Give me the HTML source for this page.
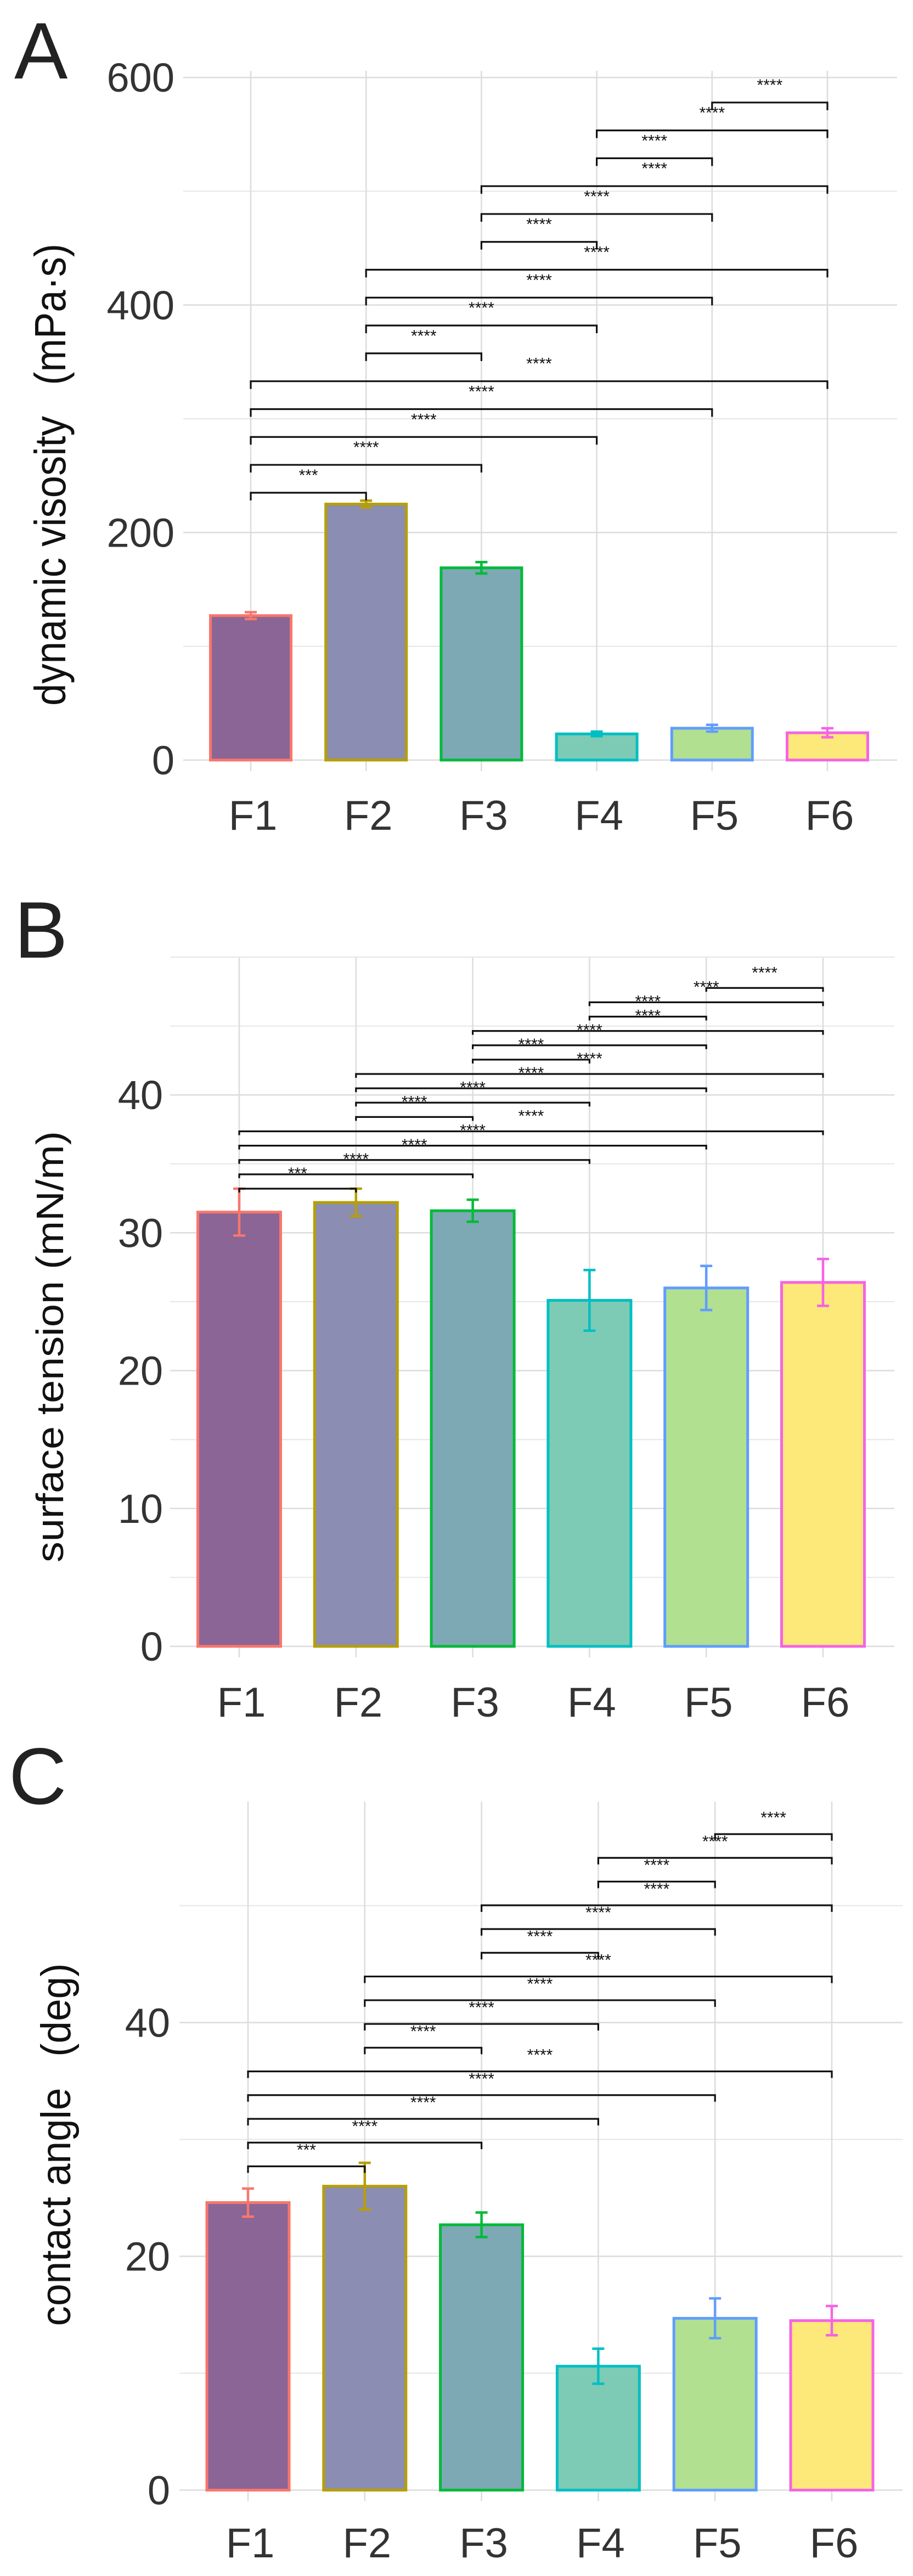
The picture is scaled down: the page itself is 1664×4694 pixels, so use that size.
<!DOCTYPE html>
<html><head><meta charset="utf-8"><style>
html,body{margin:0;padding:0;background:#fff;}
svg{display:block;font-family:"Liberation Sans",sans-serif;}
</style></head><body>
<svg id="fig" width="1664" height="4694" viewBox="0 0 1664 4694" xmlns="http://www.w3.org/2000/svg"></svg>
<script>
const categories = ["F1","F2","F3","F4","F5","F6"];
const fillColors = ["#8b6595","#8b8db2","#7da9b5","#7dcbb4","#b0e090","#fde97a"];
const strokeColors = ["#f8766d","#b79f00","#00ba38","#00bfc4","#619cff","#f564e3"];
const bracketPairs = [[0,1],[0,2],[0,3],[0,4],[0,5],[1,2],[1,3],[1,4],[1,5],[2,3],[2,4],[2,5],[3,4],[3,5],[4,5]];
const sigLabels = ["***","****","****","****","****","****","****","****","****","****","****","****","****","****","****"];

const viscValues = [127, 225, 169, 23, 28, 24];
const viscErrors = [3, 3, 5, 2, 3, 4];
const viscTicks = [0, 200, 400, 600];
const viscMinor = [100, 300, 500];
const viscBracketBase = 235, viscBracketStep = 24.5;

const tensionValues = [31.5, 32.2, 31.6, 25.1, 26.0, 26.4];
const tensionErrors = [1.7, 1.0, 0.8, 2.2, 1.6, 1.7];
const tensionTicks = [0, 10, 20, 30, 40];
const tensionMinor = [5, 15, 25, 35, 45, 50];
const tensionBracketBase = 33.2, tensionBracketStep = 1.04;

const angleValues = [24.6, 26.0, 22.7, 10.6, 14.7, 14.5];
const angleErrors = [1.2, 2.0, 1.05, 1.5, 1.7, 1.25];
const angleTicks = [0, 20, 40];
const angleMinor = [10, 30, 50];
const angleBracketBase = 27.7, angleBracketStep = 2.03;

const NS = "http://www.w3.org/2000/svg";
const svg = document.getElementById("fig");
function mk(tag, attrs, parent){
  const e = document.createElementNS(NS, tag);
  for (const k in attrs) e.setAttribute(k, attrs[k]);
  (parent || svg).appendChild(e);
  return e;
}

function drawPanel(cfg){
  const g = mk("g", {});
  
  
  const xS = i => cfg.x0 + i * cfg.dx;
  const yS = v => cfg.yZero - v * cfg.ppu;
  cfg.minor.forEach(v => {
    const l = mk("line", {x1:cfg.gridL, x2:cfg.gridR, y1:yS(v), y2:yS(v), stroke:"#e6e6e6", "stroke-width":2}, g);
    
    
  });
  cfg.ticks.forEach(v => {
    const l = mk("line", {x1:cfg.gridL, x2:cfg.gridR, y1:yS(v), y2:yS(v), stroke:"#dcdcdc", "stroke-width":2.5}, g);
    
    
    const t = mk("text", {x:cfg.tickRight, y:yS(v)+26, "text-anchor":"end", "font-size":74, fill:"#333"}, g);
    t.textContent = String(v);
    
    
  });
  categories.forEach((c, i) => {
    const l = mk("line", {x1:xS(i), x2:xS(i), y1:cfg.top, y2:cfg.yZero+20, stroke:"#dcdcdc", "stroke-width":2.5}, g);
    
    
  });
  categories.forEach((c, i) => {
    const v = cfg.values[i], e = cfg.errors[i];
    const r = mk("rect", {x:xS(i)-cfg.half, y:yS(v), width:cfg.half*2, height:yS(0)-yS(v), fill:fillColors[i], stroke:strokeColors[i], "stroke-width":5}, g);
    
    
    const eg = mk("g", {stroke:strokeColors[i], "stroke-width":4.5}, g);
    
    
    mk("line", {x1:xS(i), x2:xS(i), y1:yS(v+e), y2:yS(v-e)}, eg);
    mk("line", {x1:xS(i)-11, x2:xS(i)+11, y1:yS(v+e), y2:yS(v+e)}, eg);
    mk("line", {x1:xS(i)-11, x2:xS(i)+11, y1:yS(v-e), y2:yS(v-e)}, eg);
    const t = mk("text", {x:xS(i)+4, y:cfg.xLabelY, "text-anchor":"middle", "font-size":76, fill:"#333"}, g);
    t.textContent = c;
    
    
  });
  bracketPairs.forEach((p, k) => {
    const yv = cfg.bBase + k * cfg.bStep;
    const y = yS(yv);
    const bg = mk("g", {stroke:"#111", "stroke-width":3.2, fill:"none"}, g);
    
    
    mk("path", {d:`M${xS(p[0])},${y+cfg.tick} V${y} H${xS(p[1])} V${y+cfg.tick}`}, bg);
    const t = mk("text", {x:(xS(p[0])+xS(p[1]))/2, y:y-cfg.lblOff, "text-anchor":"middle", "font-size":30, fill:"#111"}, g);
    t.textContent = sigLabels[k];
    
    
  });
  const yt = mk("text", {x:0, y:0, transform:`translate(${cfg.titleX},${cfg.titleY}) rotate(-90)`, "text-anchor":"middle", "font-size":cfg.titleSize, fill:"#111", textLength:cfg.titleLen, lengthAdjust:"spacingAndGlyphs"}, g);
  yt.textContent = cfg.title;
  
  
  const pl = mk("text", {x:cfg.letterX, y:cfg.letterY, "font-size":146, fill:"#222"}, g);
  pl.textContent = cfg.letter;
  
  
}

drawPanel({name:"viscosity-chart", values:viscValues, errors:viscErrors, ticks:viscTicks, minor:viscMinor,
  x0:457, dx:210.2, half:73.5, yZero:1385, ppu:2.073, gridL:334, gridR:1635, top:129, tickRight:318,
  xLabelY:1512, bBase:viscBracketBase, bStep:viscBracketStep, tick:14, lblOff:22,
  title:"dynamic visosity\u2002 (mPa\u00b7s)", titleSize:80, titleLen:842, titleX:119, titleY:865, letter:"A", letterX:26, letterY:143});

drawPanel({name:"surface-tension-chart", values:tensionValues, errors:tensionErrors, ticks:tensionTicks, minor:tensionMinor,
  x0:436, dx:212.8, half:75.5, yZero:3000, ppu:25.12, gridL:310, gridR:1630, top:1745, tickRight:297,
  xLabelY:3128, bBase:tensionBracketBase, bStep:tensionBracketStep, tick:7, lblOff:18,
  title:"surface tension (mN/m)", titleSize:70, titleLen:786, titleX:115, titleY:2454, letter:"B", letterX:26, letterY:1745});

drawPanel({name:"contact-angle-chart", values:angleValues, errors:angleErrors, ticks:angleTicks, minor:angleMinor,
  x0:452, dx:212.8, half:75, yZero:4537.5, ppu:21.3, gridL:327, gridR:1645, top:3283, tickRight:310,
  xLabelY:4660, bBase:angleBracketBase, bStep:angleBracketStep, tick:12, lblOff:20,
  title:"contact angle\u2002 (deg)", titleSize:76, titleLen:661, titleX:128, titleY:3908, letter:"C", letterX:16, letterY:3287});
</script>
</body></html>
